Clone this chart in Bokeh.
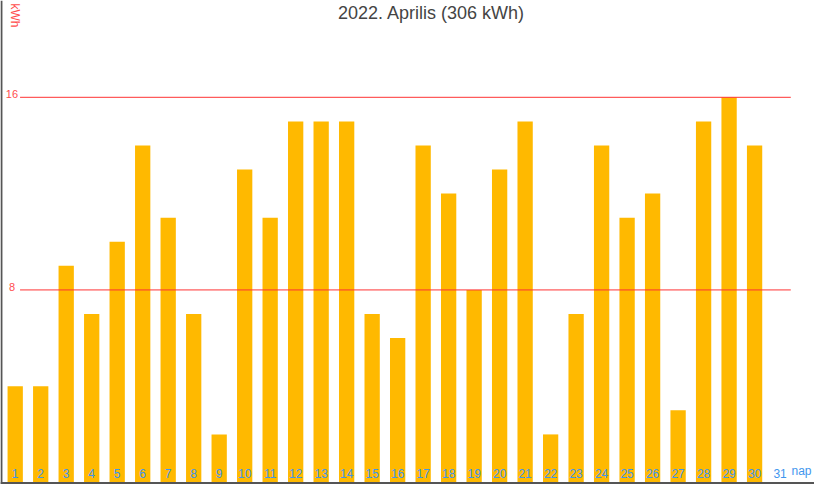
import math
from bokeh.plotting import figure
from bokeh.models import Range1d, Span, Label, ColumnDataSource
from bokeh.core.properties import value
from bokeh.embed import file_html
from bokeh.resources import INLINE

# ---- data ----
days = list(range(1, 31))
energy_kwh = [4, 4, 9, 7, 10, 14, 11, 7, 2, 13,
              11, 15, 15, 15, 7, 6, 14, 12, 8, 13,
              15, 2, 7, 14, 11, 12, 3, 15, 16, 14]
day_labels = [str(d) for d in range(1, 32)]
y_ticks = [8, 16]
title_text = "2022. Aprilis (306 kWh)"
y_title = "kWh"
x_title = "nap"

# ---- layout constants ----
W, H = 814, 484
FONT = "Liberation Sans"
BAR_COLOR = "#FFB900"
GRID_COLOR = "#FF3333"
TICK_COLOR = "#FF4D4D"
LABEL_BLUE = "#3F96EE"
AXIS_COLOR = "#555555"

p = figure(width=W, height=H, output_backend="svg", toolbar_location=None,
           x_axis_location=None, y_axis_location=None,
           x_range=Range1d(0.423, 32.35), y_range=Range1d(-0.08, 20.02),
           min_border=0, outline_line_color=None)
p.xgrid.visible = False
p.ygrid.visible = False
p.background_fill_color = "white"
p.border_fill_color = "white"

# bars
src = ColumnDataSource(dict(x=days, top=energy_kwh))
p.vbar(x="x", top="top", width=0.6, source=src, fill_color=BAR_COLOR, line_color=None)

# horizontal reference lines at tick values
p.segment(x0=[1.19] * len(y_ticks), x1=[31.42] * len(y_ticks), y0=y_ticks, y1=y_ticks,
          line_color=GRID_COLOR, line_width=1)

# y tick labels
p.text(x=[0.5] * len(y_ticks), y=y_ticks, text=[str(t) for t in y_ticks],
       x_offset=9.5, y_offset=1, text_align="center", text_baseline="bottom",
       text_color=TICK_COLOR, text_font=value(FONT), text_font_size="11px")

# x day labels
p.text(x=list(range(1, 32)), y=[0] * 31, text=day_labels,
       y_offset=-5, text_align="center", text_baseline="bottom",
       text_color=LABEL_BLUE, text_font=value(FONT), text_font_size="12px")

# axis title "nap"
p.text(x=[31.84], y=[0], text=[x_title], y_offset=-5, text_align="center",
       text_baseline="bottom", text_color=LABEL_BLUE, text_font=value(FONT),
       text_font_size="12px")

# axis lines
p.add_layout(Span(location=0.46, dimension="height", line_color=AXIS_COLOR, line_width=2))
p.add_layout(Span(location=-0.02, dimension="width", line_color=AXIS_COLOR, line_width=2))

# y title
p.add_layout(Label(x=14.5, y=H - 15, x_units="screen", y_units="screen", text=y_title,
                   angle=-math.pi / 2, text_align="center", text_baseline="middle",
                   text_color=TICK_COLOR, text_font=FONT, text_font_size="12px"))

# chart title
p.add_layout(Label(x=431, y=H - 12, x_units="screen", y_units="screen", text=title_text,
                   text_align="center", text_baseline="middle",
                   text_color="#444444", text_font=FONT, text_font_size="18px"))

open("out.html", "w").write(file_html(p, INLINE))
